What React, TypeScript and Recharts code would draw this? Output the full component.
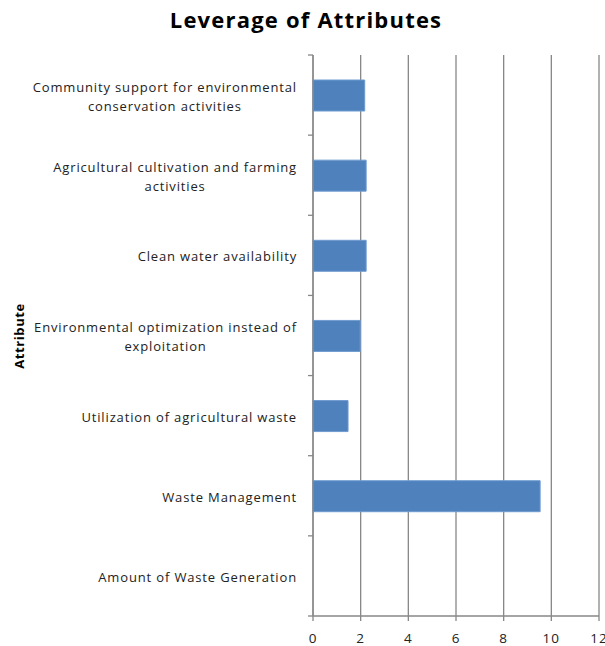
import { BarChart, Bar, XAxis, YAxis, CartesianGrid } from 'recharts'

const attributes = [
  'Community support for environmental\nconservation activities',
  'Agricultural cultivation and farming\nactivities',
  'Clean water availability',
  'Environmental optimization instead of\nexploitation',
  'Utilization of agricultural waste',
  'Waste Management',
  'Amount of Waste Generation',
]
const leverage = [2.17, 2.23, 2.23, 1.98, 1.47, 9.53, 0]
const xTicks = [0, 2, 4, 6, 8, 10, 12]

const data = attributes.map((name, i) => ({ name, value: leverage[i] }))

const FONT = '"Open Sans", "Liberation Sans", sans-serif'
const LABEL_SIZE = 13
const LABEL_SPACING = 0.85
const TEXT = '#222'
const LINE = '#878787'

let ctx: CanvasRenderingContext2D | null = null
function textWidth(s: string): number {
  if (!ctx) ctx = document.createElement('canvas').getContext('2d')
  if (!ctx) return s.length * 7.1
  ctx.font = `${LABEL_SIZE}px ${FONT}`
  return ctx.measureText(s).width + s.length * LABEL_SPACING
}

// Excel-style category label: block right-aligned to the axis, lines centred within it.
// Also draws the tick marks at the band edges.
function CategoryTick(props: any) {
  const { x, y, payload, index, visibleTicksCount } = props
  const half = payload?.offset ?? 40
  const lines = String(payload.value).split('\n')
  const widest = Math.max(...lines.map(textWidth))
  const cx = x - widest / 2
  const lh = 19
  const top = y + 1 - ((lines.length - 1) * lh) / 2
  const axisX = x + 16
  return (
    <g>
      <line x1={axisX - 5} x2={axisX} y1={y - half} y2={y - half} stroke={LINE} strokeWidth={1.3} />
      {index === visibleTicksCount - 1 && (
        <line x1={axisX - 5} x2={axisX} y1={y + half} y2={y + half} stroke={LINE} strokeWidth={1.3} />
      )}
      <text
        x={cx}
        y={top}
        textAnchor="middle"
        dominantBaseline="central"
        fontFamily={FONT}
        fontSize={LABEL_SIZE}
        letterSpacing={LABEL_SPACING}
        fill={TEXT}
      >
        {lines.map((l, i) => (
          <tspan key={i} x={cx} y={top + i * lh}>
            {l}
          </tspan>
        ))}
      </text>
    </g>
  )
}

export default function App() {
  return (
    <div style={{ position: 'absolute', left: 0, top: 0, width: 605, height: 646, background: '#fff' }}>
      <div
        style={{
          position: 'absolute',
          left: 0,
          width: 612,
          top: 4,
          textAlign: 'center',
          fontFamily: FONT,
          fontWeight: 700,
          fontSize: 22,
          letterSpacing: 1.2,
          color: '#000',
        }}
      >
        Leverage of Attributes
      </div>
      <div
        style={{
          position: 'absolute',
          left: 19,
          top: 336,
          transform: 'translate(-50%, -50%) rotate(-90deg)',
          fontFamily: FONT,
          fontWeight: 700,
          fontSize: 13,
          letterSpacing: 0.6,
          color: '#000',
          whiteSpace: 'nowrap',
        }}
      >
        Attribute
      </div>
      <BarChart
        width={605}
        height={646}
        data={data}
        layout="vertical"
        margin={{ top: 55, right: 6, bottom: 0, left: 0 }}
      >
        <CartesianGrid horizontal={false} stroke={LINE} strokeWidth={1.3} />
        <XAxis
          type="number"
          domain={[0, 12]}
          ticks={xTicks}
          interval={0}
          stroke={LINE}
          strokeWidth={1.3}
          tickSize={5}
          tickMargin={12}
          tick={{ fill: TEXT, fontFamily: FONT, fontSize: 13.5, letterSpacing: 1 }}
          height={30}
        />
        <YAxis
          type="category"
          dataKey="name"
          width={313}
          interval={0}
          tickLine={false}
          tickSize={0}
          tickMargin={16}
          stroke={LINE}
          strokeWidth={1.3}
          tick={<CategoryTick />}
        />
        <Bar
          dataKey="value"
          fill="#4f81bd"
          stroke="#6f9bd0"
          strokeWidth={1}
          barSize={31}
          isAnimationActive={false}
        />
      </BarChart>
    </div>
  )
}
